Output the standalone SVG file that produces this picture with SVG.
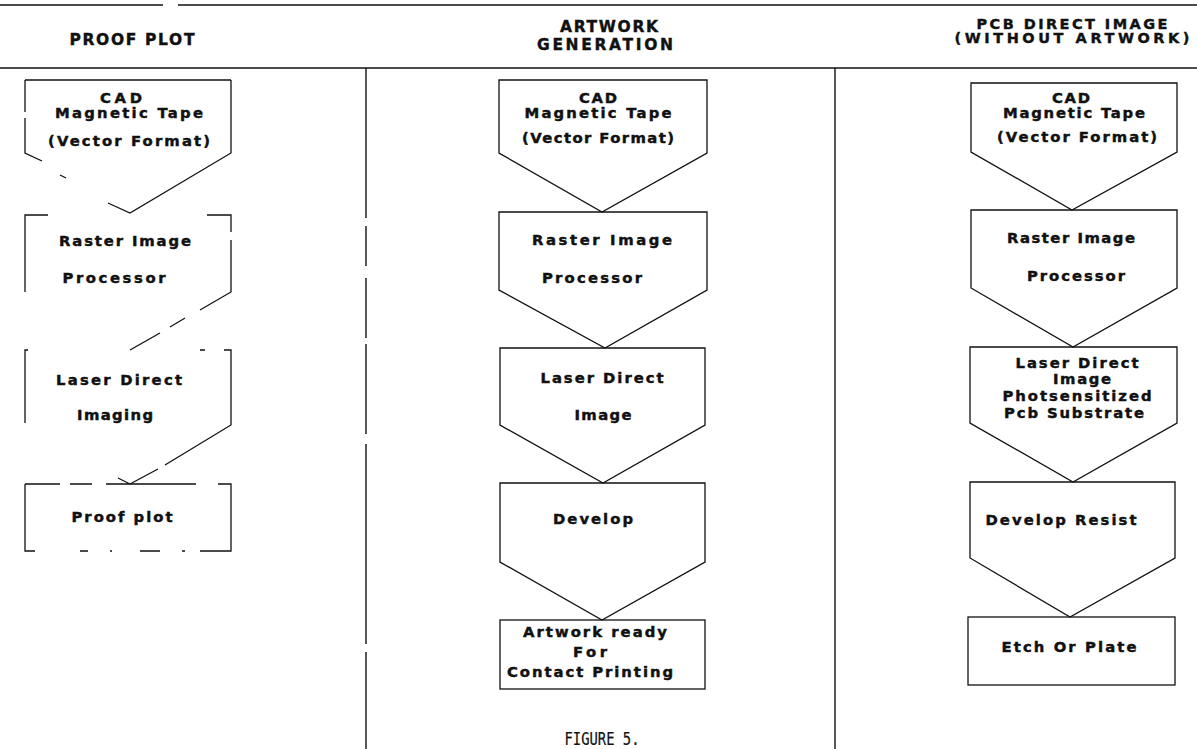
<svg xmlns="http://www.w3.org/2000/svg" width="1197" height="749" viewBox="0 0 1197 749">
  <style>
    .rule { stroke: #111; stroke-width: 1.4; fill: none; }
    .shape { stroke: #111; stroke-width: 1.3; fill: none; stroke-linejoin: miter; }
    .head { font-family: "DejaVu Sans", "Liberation Sans", sans-serif; font-weight: bold; font-size: 15.5px; fill: #111; stroke: #111; stroke-width: 0.4; text-anchor: middle; }
    .lbl { font-family: "DejaVu Sans", "Liberation Sans", sans-serif; font-weight: bold; font-size: 14.8px; fill: #111; stroke: #111; stroke-width: 0.45; text-anchor: middle; }
    .cap { font-family: "DejaVu Sans Mono", "Liberation Mono", monospace; font-size: 17px; fill: #111; stroke: #111; stroke-width: 0.2; text-anchor: middle; }
  </style>

  <rect width="1197" height="749" fill="#fff"/>

  <!-- column rules and dividers -->
  <g id="frame">
    <path class="rule" d="M0,5 H163 M178,5 H1197"/>
    <path class="rule" d="M0,68 H1197"/>
    <path class="rule" d="M366,68 V749" style="stroke-dasharray: 150 8 40 12 60 6 90 10 200 8"/>
    <path class="rule" d="M835,68 V749"/>
  </g>

  <!-- column headings -->
  <g id="headings">
    <text class="head" x="132" y="45" textLength="125" lengthAdjust="spacing">PROOF PLOT</text>
    <text class="head" x="609" y="32" textLength="98" lengthAdjust="spacing">ARTWORK</text>
    <text class="head" x="605" y="50" textLength="136" lengthAdjust="spacing">GENERATION</text>
    <text class="head" x="1072" y="29" textLength="191" lengthAdjust="spacing" style="font-size:14.5px">PCB DIRECT IMAGE</text>
    <text class="head" x="1072" y="43" textLength="235" lengthAdjust="spacing" style="font-size:14.5px">(WITHOUT ARTWORK)</text>
  </g>

  <!-- connectors: the flow is carried by the arrow-shaped steps themselves -->
  <g id="connectors"></g>

  <!-- proof plot column (worn print: broken outlines) -->
  <g id="proof-cad">
    <path class="shape" d="M25,80 H231 M25,80 V112 M25,118 V153 L42,161 M60,175 L66,178 M108,203 L130,213 L231,153 V80"/>
    <text class="lbl" x="121" y="102.5" textLength="42" lengthAdjust="spacing">CAD</text>
    <text class="lbl" x="129" y="118" textLength="148" lengthAdjust="spacing">Magnetic Tape</text>
    <text class="lbl" x="129" y="146" textLength="162" lengthAdjust="spacing">(Vector Format)</text>
  </g>
  <g id="proof-rip">
    <path class="shape" d="M48,215 H25 V292 M207,215 H231 V232 M231,240 V292 L200,310 M185,318 L170,327 M160,333 L130,350"/>
    <text class="lbl" x="125" y="245.5" textLength="132" lengthAdjust="spacing">Raster Image</text>
    <text class="lbl" x="114" y="283" textLength="103" lengthAdjust="spacing">Processor</text>
  </g>
  <g id="proof-ldi">
    <path class="shape" d="M28,350 H25 V423 M200,350 H205 M224,350 H231 V425 L165,465 M158,469 L130,484"/>
    <text class="lbl" x="119" y="385" textLength="126" lengthAdjust="spacing">Laser Direct</text>
    <text class="lbl" x="115" y="420" textLength="76" lengthAdjust="spacing">Imaging</text>
  </g>
  <g id="proof-plot">
    <path class="shape" d="M25,484 H60 M70,484 H92 M106,484 H196 M25,484 V551 H35 M80,551 H88 M110,551 H112 M140,551 H160 M182,551 H185 M200,551 H231 V484 H218 M118,478 L130,484"/>
    <text class="lbl" x="122" y="522" textLength="101" lengthAdjust="spacing">Proof plot</text>
  </g>

  <!-- artwork generation column -->
  <g id="art-cad">
    <path class="shape" d="M499,80 H707 V153 L602,212 L499,153 Z"/>
    <text class="lbl" x="598" y="102.5" textLength="38" lengthAdjust="spacing">CAD</text>
    <text class="lbl" x="598" y="118" textLength="147" lengthAdjust="spacing">Magnetic Tape</text>
    <text class="lbl" x="598" y="143" textLength="152" lengthAdjust="spacing">(Vector Format)</text>
  </g>
  <g id="art-rip">
    <path class="shape" d="M499,212 H707 V290 L605,348 L499,290 Z"/>
    <text class="lbl" x="602" y="245" textLength="140" lengthAdjust="spacing">Raster  Image</text>
    <text class="lbl" x="592" y="283" textLength="100" lengthAdjust="spacing">Processor</text>
  </g>
  <g id="art-ldi">
    <path class="shape" d="M500,348 H705 V425 L603,483 L500,425 Z"/>
    <text class="lbl" x="602" y="383" textLength="123" lengthAdjust="spacing">Laser Direct</text>
    <text class="lbl" x="603" y="420" textLength="57" lengthAdjust="spacing">Image</text>
  </g>
  <g id="art-develop">
    <path class="shape" d="M500,483 H705 V562 L602,620 L500,562 Z"/>
    <text class="lbl" x="593" y="523.5" textLength="80" lengthAdjust="spacing">Develop</text>
  </g>
  <g id="art-ready">
    <rect class="shape" x="500" y="620" width="205" height="69"/>
    <text class="lbl" x="595" y="637" textLength="144" lengthAdjust="spacing">Artwork ready</text>
    <text class="lbl" x="590" y="657" textLength="34" lengthAdjust="spacing">For</text>
    <text class="lbl" x="590" y="677" textLength="166" lengthAdjust="spacing">Contact Printing</text>
  </g>

  <!-- direct image column -->
  <g id="pcb-cad">
    <path class="shape" d="M971,83 H1177 V152 L1072,210 L971,152 Z"/>
    <text class="lbl" x="1071" y="102.5" textLength="38" lengthAdjust="spacing">CAD</text>
    <text class="lbl" x="1074" y="118" textLength="142" lengthAdjust="spacing">Magnetic Tape</text>
    <text class="lbl" x="1077" y="142" textLength="160" lengthAdjust="spacing">(Vector Format)</text>
  </g>
  <g id="pcb-rip">
    <path class="shape" d="M971,210 H1177 V288 L1073,347 L971,288 Z"/>
    <text class="lbl" x="1071" y="243" textLength="128" lengthAdjust="spacing">Raster Image</text>
    <text class="lbl" x="1076" y="281" textLength="98" lengthAdjust="spacing">Processor</text>
  </g>
  <g id="pcb-ldi">
    <path class="shape" d="M970,347 H1177 V423 L1073,482 L970,423 Z"/>
    <text class="lbl" x="1077" y="368" textLength="123" lengthAdjust="spacing">Laser Direct</text>
    <text class="lbl" x="1082" y="384" textLength="58" lengthAdjust="spacing">Image</text>
    <text class="lbl" x="1077" y="401" textLength="149" lengthAdjust="spacing">Photsensitized</text>
    <text class="lbl" x="1074" y="418" textLength="140" lengthAdjust="spacing">Pcb Substrate</text>
  </g>
  <g id="pcb-develop">
    <path class="shape" d="M970,482 H1175 V558 L1070,617 L970,558 Z"/>
    <text class="lbl" x="1061" y="525" textLength="151" lengthAdjust="spacing">Develop Resist</text>
  </g>
  <g id="pcb-etch">
    <rect class="shape" x="968" y="617" width="207" height="68"/>
    <text class="lbl" x="1069" y="652" textLength="135" lengthAdjust="spacing">Etch Or Plate</text>
  </g>

  <text class="cap" x="602" y="745" textLength="75" lengthAdjust="spacingAndGlyphs">FIGURE 5.</text>
</svg>
